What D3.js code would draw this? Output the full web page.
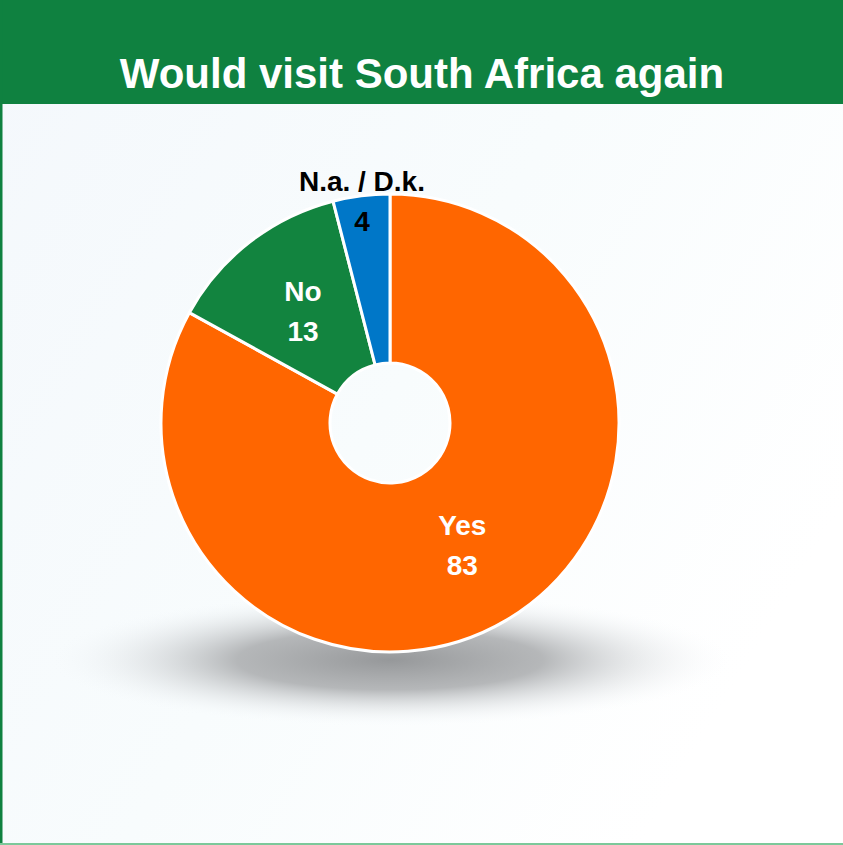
<!DOCTYPE html>
<html>
<head>
<meta charset="utf-8">
<script src="https://cdn.jsdelivr.net/npm/d3@7"></script>
<style>
  html, body { margin: 0; padding: 0; background: #fff; }
  svg { display: block; }
</style>
</head>
<body>
<div id="chart"></div>
<script>
const width = 843;
const height = 845;

// data
const title = "Would visit South Africa again";
const categories = ["Yes", "No", "N.a. / D.k."];
const values = [83, 13, 4];
const colors = ["#ff6600", "#12843f", "#0077c8"];
const labelColors = ["#ffffff", "#ffffff", "#000000"];

const cx = 390, cy = 423;
const outerR = 229, innerR = 60;

const svg = d3.select("#chart").append("svg")
    .attr("width", width)
    .attr("height", height);

const defs = svg.append("defs");

// soft background
const bg = defs.append("linearGradient")
    .attr("id", "bg")
    .attr("x1", "0").attr("y1", "0")
    .attr("x2", "1").attr("y2", "0.6");
bg.append("stop").attr("offset", "0").attr("stop-color", "#f4f8fc");
bg.append("stop").attr("offset", "0.55").attr("stop-color", "#f8fcfd");
bg.append("stop").attr("offset", "1").attr("stop-color", "#ffffff");

const shadow = defs.append("radialGradient")
    .attr("id", "shadow");
shadow.append("stop").attr("offset", "0").attr("stop-color", "#96989a").attr("stop-opacity", 1);
shadow.append("stop").attr("offset", "0.45").attr("stop-color", "#a9abad").attr("stop-opacity", 0.85);
shadow.append("stop").attr("offset", "1").attr("stop-color", "#f4f8fb").attr("stop-opacity", 0);

svg.append("rect")
    .attr("width", width)
    .attr("height", height)
    .attr("fill", "url(#bg)");

// header
svg.append("rect")
    .attr("x", 0).attr("y", 0)
    .attr("width", width).attr("height", 104)
    .attr("fill", "#0f8140");

svg.append("text")
    .attr("x", 422)
    .attr("y", 88)
    .attr("text-anchor", "middle")
    .attr("fill", "#fff")
    .style("font-family", "Liberation Sans, Arial, sans-serif")
    .style("font-weight", "bold")
    .style("font-size", "42px")
    .text(title);

// frame lines
svg.append("rect")
    .attr("x", 0).attr("y", 0)
    .attr("width", 2.5).attr("height", height)
    .attr("fill", "#0f8140");
svg.append("rect")
    .attr("x", 0).attr("y", height - 2)
    .attr("width", width).attr("height", 2)
    .attr("fill", "#7cc89a");

// shadow under the donut
svg.append("ellipse")
    .attr("cx", cx)
    .attr("cy", 660)
    .attr("rx", 340)
    .attr("ry", 66)
    .attr("fill", "url(#shadow)");

const pie = d3.pie()
    .sort(null)
    .value(d => d.value);

const data = categories.map((c, i) => ({ name: c, value: values[i], color: colors[i], label: labelColors[i] }));
const arcs = pie(data);

const arc = d3.arc()
    .innerRadius(innerR)
    .outerRadius(outerR);

const g = svg.append("g")
    .attr("transform", `translate(${cx},${cy})`);

g.selectAll("path.slice")
    .data(arcs)
    .enter().append("path")
    .attr("class", "slice")
    .attr("d", arc)
    .attr("fill", d => d.data.color)
    .attr("stroke", "#fff")
    .attr("stroke-width", 3)
    .attr("stroke-linejoin", "round");

// labels: small slices go outside
const labelArc = d3.arc().innerRadius(142).outerRadius(142);
const outArc = d3.arc().innerRadius(224).outerRadius(224);

const labels = g.selectAll("g.label")
    .data(arcs)
    .enter().append("g")
    .attr("class", "label")
    .attr("transform", d => {
        const p = (d.data.value < 8 ? outArc : labelArc).centroid(d);
        return `translate(${p[0]},${p[1]})`;
    });

labels.append("text")
    .attr("text-anchor", "middle")
    .attr("y", -10)
    .attr("fill", d => d.data.label)
    .style("font-family", "Liberation Sans, Arial, sans-serif")
    .style("font-weight", "bold")
    .style("font-size", "28px")
    .text(d => d.data.name);

labels.append("text")
    .attr("text-anchor", "middle")
    .attr("y", 30)
    .attr("fill", d => d.data.label)
    .style("font-family", "Liberation Sans, Arial, sans-serif")
    .style("font-weight", "bold")
    .style("font-size", "28px")
    .text(d => d.data.value);
</script>
</body>
</html>
